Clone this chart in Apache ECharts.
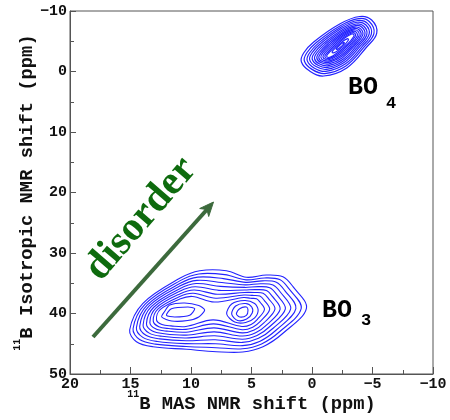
<!DOCTYPE html>
<html><head><meta charset="utf-8">
<script src="https://cdn.jsdelivr.net/npm/echarts@6/dist/echarts.min.js"></script>
<style>html,body{margin:0;padding:0;background:#fff}#c{width:450px;height:420px}</style>
</head><body><div id="c"></div>
<script>
// Axis ranges (ppm)
const xRange = [-10, 20];   // 11B MAS NMR shift, reversed
const yRange = [-10, 50];   // 11B isotropic NMR shift, reversed

// BO3 contours enclosing both sites, outer to inner, [MAS ppm, iso ppm]
const bo3Merged = [
 [[15.07,42.73],[14.51,44.66],[13.14,45.49],[10.38,45.92],[7.90,46.31],[5.73,46.36],[4.05,45.49],[2.40,43.27],[0.46,39.14],[1.57,35.57],[2.40,33.92],[3.77,33.64],[5.42,34.02],[7.07,32.93],[9.28,32.93],[10.93,34.18],[13.97,38.31]],
 [[14.79,42.52],[14.25,44.31],[12.95,45.06],[10.39,45.45],[7.93,45.65],[5.74,45.83],[4.17,45.03],[2.66,42.98],[0.89,39.17],[1.91,35.89],[2.67,34.38],[3.93,34.12],[5.45,34.44],[7.20,33.58],[9.36,33.46],[10.93,34.61],[13.79,38.44]],
 [[14.51,42.31],[13.98,43.95],[12.77,44.63],[10.39,44.98],[7.97,45.00],[5.74,45.31],[4.29,44.57],[2.93,42.69],[1.33,39.19],[2.25,36.21],[2.95,34.83],[4.10,34.60],[5.48,34.85],[7.32,34.23],[9.43,33.99],[10.93,35.04],[13.61,38.57]],
 [[14.24,42.10],[13.72,43.60],[12.58,44.20],[10.40,44.51],[8.00,44.34],[5.75,44.78],[4.42,44.11],[3.19,42.40],[1.76,39.22],[2.59,36.53],[3.22,35.29],[4.26,35.08],[5.50,35.27],[7.45,34.87],[9.51,34.52],[10.93,35.47],[13.44,38.70]],
 [[13.96,41.89],[13.45,43.24],[12.40,43.77],[10.40,44.04],[8.04,43.69],[5.76,44.26],[4.54,43.65],[3.46,42.11],[2.20,39.24],[2.93,36.85],[3.49,35.74],[4.42,35.56],[5.53,35.69],[7.57,35.52],[9.58,35.05],[10.93,35.90],[13.26,38.83]],
 [[13.68,41.68],[13.19,42.89],[12.21,43.34],[10.41,43.57],[8.07,43.03],[5.77,43.73],[4.66,43.19],[3.72,41.83],[2.63,39.27],[3.27,37.18],[3.77,36.20],[4.59,36.05],[5.56,36.11],[7.70,36.17],[9.66,35.59],[10.93,36.33],[13.08,38.97]],
 [[13.40,41.47],[12.93,42.53],[12.02,42.91],[10.41,43.09],[8.10,42.37],[5.77,43.20],[4.78,42.72],[3.98,41.54],[3.06,39.29],[3.61,37.50],[4.04,36.65],[4.75,36.53],[5.59,36.52],[7.83,36.82],[9.73,36.12],[10.93,36.76],[12.90,39.10]],
 [[13.12,41.26],[12.66,42.18],[11.84,42.48],[10.42,42.62],[8.14,41.72],[5.78,42.68],[4.90,42.26],[4.25,41.25],[3.50,39.32],[3.95,37.82],[4.31,37.11],[4.91,37.01],[5.62,36.94],[7.95,37.47],[9.81,36.65],[10.93,37.19],[12.72,39.23]],
 [[12.85,41.05],[12.40,41.82],[11.65,42.05],[10.42,42.15],[8.17,41.06],[5.79,42.15],[5.03,41.80],[4.51,40.96],[3.93,39.34],[4.29,38.14],[4.58,37.56],[5.07,37.49],[5.65,37.36],[8.08,38.11],[9.88,37.18],[10.93,37.62],[12.55,39.36]]
];
// BO3 inner loops around the left site
const bo3Left = [
 [[12.42,40.58],[12.21,39.75],[11.76,38.60],[10.52,38.26],[9.36,38.68],[8.87,39.42],[9.36,40.58],[10.27,41.16],[11.60,41.24]],
 [[12.03,40.30],[11.62,39.21],[10.25,38.93],[9.69,39.21],[10.11,40.30],[11.35,40.58]]
];
// BO3 inner loops around the right site
const bo3Right = [
 [[7.05,40.08],[6.64,38.43],[5.56,37.85],[4.74,38.35],[4.45,39.42],[4.74,40.74],[5.48,41.49],[6.39,41.40]],
 [[6.64,40.08],[6.31,38.76],[5.48,38.35],[4.98,38.93],[4.94,39.92],[5.40,40.91],[6.14,41.16]],
 [[6.25,40.03],[5.98,39.21],[5.42,38.93],[5.29,39.47],[5.42,40.30],[5.98,40.58]]
];
// BO4 contours, outer to inner
const bo4Loops = [
 [[0.88,-1.62],[0.19,-0.08],[-0.97,0.74],[-2.87,-0.58],[-4.52,-4.05],[-5.35,-6.36],[-4.93,-8.51],[-3.94,-9.09],[-2.29,-7.85],[-0.14,-4.88],[0.69,-3.06]],
 [[0.63,-1.73],[0.00,-0.35],[-1.06,0.34],[-2.80,-0.92],[-4.33,-4.11],[-5.12,-6.29],[-4.75,-8.22],[-3.86,-8.74],[-2.34,-7.57],[-0.36,-4.80],[0.44,-3.06]],
 [[0.40,-1.84],[-0.17,-0.59],[-1.14,-0.02],[-2.74,-1.23],[-4.16,-4.17],[-4.91,-6.23],[-4.59,-7.96],[-3.79,-8.43],[-2.38,-7.32],[-0.56,-4.73],[0.21,-3.06]],
 [[0.19,-1.93],[-0.33,-0.82],[-1.21,-0.35],[-2.68,-1.51],[-4.00,-4.22],[-4.72,-6.17],[-4.44,-7.72],[-3.72,-8.14],[-2.43,-7.09],[-0.74,-4.66],[0.01,-3.06]],
 [[-0.02,-2.02],[-0.49,-1.04],[-1.29,-0.68],[-2.62,-1.79],[-3.85,-4.27],[-4.53,-6.12],[-4.29,-7.48],[-3.66,-7.85],[-2.47,-6.86],[-0.92,-4.59],[-0.20,-3.06]],
 [[-0.21,-2.11],[-0.63,-1.24],[-1.36,-0.98],[-2.57,-2.04],[-3.70,-4.31],[-4.36,-6.06],[-4.16,-7.27],[-3.60,-7.59],[-2.50,-6.65],[-1.09,-4.53],[-0.39,-3.06]],
 [[-0.40,-2.19],[-0.77,-1.44],[-1.42,-1.27],[-2.52,-2.29],[-3.56,-4.36],[-4.19,-6.01],[-4.03,-7.05],[-3.54,-7.33],[-2.54,-6.44],[-1.25,-4.47],[-0.57,-3.06]],
 [[-0.56,-2.27],[-0.89,-1.62],[-1.48,-1.54],[-2.47,-2.52],[-3.44,-4.40],[-4.04,-5.97],[-3.91,-6.86],[-3.48,-7.10],[-2.57,-6.26],[-1.40,-4.42],[-0.74,-3.06]],
 [[-0.73,-2.34],[-1.02,-1.80],[-1.54,-1.80],[-2.42,-2.74],[-3.31,-4.44],[-3.89,-5.92],[-3.79,-6.67],[-3.43,-6.87],[-2.61,-6.07],[-1.54,-4.36],[-0.90,-3.06]],
 [[-0.90,-2.42],[-1.15,-1.98],[-1.60,-2.07],[-2.38,-2.97],[-3.19,-4.48],[-3.74,-5.88],[-3.67,-6.48],[-3.38,-6.63],[-2.64,-5.89],[-1.69,-4.31],[-1.07,-3.06]],
 [[-1.06,-2.49],[-1.27,-2.15],[-1.66,-2.33],[-2.33,-3.19],[-3.06,-4.52],[-3.58,-5.83],[-3.55,-6.29],[-3.33,-6.40],[-2.67,-5.70],[-1.83,-4.26],[-1.24,-3.06]],
 [[-1.21,-2.56],[-1.38,-2.31],[-1.71,-2.56],[-2.29,-3.39],[-2.95,-4.55],[-3.45,-5.79],[-3.45,-6.12],[-3.28,-6.20],[-2.70,-5.54],[-1.96,-4.21],[-1.38,-3.06]],
 [[-1.66,-3.22],[-1.76,-3.07],[-1.96,-3.22],[-2.31,-3.72],[-2.70,-4.41],[-3.00,-5.16],[-3.00,-5.36],[-2.90,-5.40],[-2.55,-5.01],[-2.11,-4.21],[-1.76,-3.52]],
 [[-2.00,-3.72],[-2.05,-3.64],[-2.15,-3.72],[-2.32,-3.97],[-2.52,-4.31],[-2.67,-4.68],[-2.67,-4.78],[-2.62,-4.81],[-2.45,-4.61],[-2.22,-4.21],[-2.05,-3.87]]
];

const BLUE = '#2323ff';
const MONO = '"Liberation Mono", "DejaVu Sans Mono", monospace';
const AXC = '#555';

function contourSeries(name, loops, smooth, width) {
  return {
    type: 'custom', name: name, silent: true, z: 3,
    data: loops.map(function (l) { return l[0]; }),
    renderItem: function (params, api) {
      const pts = loops[params.dataIndex].map(function (p) { return api.coord(p); });
      return { type: 'polygon', shape: { points: pts, smooth: smooth },
               style: { fill: 'none', stroke: BLUE, lineWidth: width } };
    }
  };
}
const minus = function (v) { return String(v).replace('-', '\u2212'); };
const richName = {
  s: { fontFamily: MONO, fontWeight: 'bold', fontSize: 10, color: '#111', verticalAlign: 'top', lineHeight: 22 },
  m: { fontFamily: MONO, fontWeight: 'bold', fontSize: 18.8, color: '#111', lineHeight: 22, padding: [8, 0, 0, 0] }
};

const chart = echarts.init(document.getElementById('c'), null, { renderer: 'canvas' });
chart.setOption({
  backgroundColor: '#fff',
  animation: false,
  grid: { left: 70, right: 17, top: 11, bottom: 46, containLabel: false, outerBoundsMode: 'none',
          show: true, borderColor: AXC, borderWidth: 1, backgroundColor: 'transparent' },
  xAxis: {
    type: 'value', min: xRange[0], max: xRange[1], interval: 5, inverse: true,
    splitLine: { show: false },
    axisLine: { show: true, onZero: false, lineStyle: { color: AXC, width: 1 } },
    axisTick: { show: true, inside: true, length: 7, lineStyle: { color: AXC } },
    minorTick: { show: true, splitNumber: 2, length: 4, lineStyle: { color: AXC } },
    axisLabel: { formatter: minus, color: '#111', fontFamily: MONO, fontWeight: 'bold', fontSize: 15, margin: 3 },
    name: '{s|11}{m|B MAS NMR shift (ppm)}', nameLocation: 'middle', nameGap: 15, nameMoveOverlap: false,
    nameTextStyle: { rich: richName }
  },
  yAxis: {
    type: 'value', min: yRange[0], max: yRange[1], interval: 10, inverse: true,
    splitLine: { show: false },
    axisLine: { show: true, onZero: false, lineStyle: { color: AXC, width: 1 } },
    axisTick: { show: true, inside: true, length: 6, lineStyle: { color: AXC } },
    minorTick: { show: true, splitNumber: 2, length: 4, lineStyle: { color: AXC } },
    axisLabel: { formatter: minus, color: '#111', fontFamily: MONO, fontWeight: 'bold', fontSize: 15, margin: 3 },
    name: '{s|11}{m|B Isotropic NMR shift (ppm)}', nameLocation: 'middle', nameGap: 36, nameMoveOverlap: false,
    nameTextStyle: { rich: richName }
  },
  series: [
    contourSeries('BO3', bo3Merged, 0.35, 1.1),
    contourSeries('BO3 left', bo3Left, 0.25, 1.1),
    contourSeries('BO3 right', bo3Right, 0.3, 1.1),
    contourSeries('BO4', bo4Loops, 0.4, 1.2)
  ],
  graphic: [
    { type: 'text', x: 348, y: 88, silent: true,
      style: { text: 'BO', fill: '#000', font: 'bold 25px ' + MONO, verticalAlign: 'middle', align: 'left' } },
    { type: 'text', x: 386, y: 104, silent: true,
      style: { text: '4', fill: '#000', font: 'bold 17px ' + MONO, verticalAlign: 'middle', align: 'left' } },
    { type: 'text', x: 322, y: 311, silent: true,
      style: { text: 'BO', fill: '#000', font: 'bold 25px ' + MONO, verticalAlign: 'middle', align: 'left' } },
    { type: 'text', x: 361, y: 321, silent: true,
      style: { text: '3', fill: '#000', font: 'bold 17px ' + MONO, verticalAlign: 'middle', align: 'left' } },
    { type: 'line', silent: true,
      shape: { x1: 93, y1: 337, x2: 207, y2: 209.5 },
      style: { stroke: '#3c6a3c', lineWidth: 4 } },
    { type: 'polygon', silent: true,
      shape: { points: [[213.5, 202], [208.7, 216.5], [206.9, 209.5], [199.7, 208.5]] },
      style: { fill: '#3c6a3c', stroke: '#3c6a3c', lineWidth: 1 } },
    { type: 'text', x: 141, y: 219, rotation: 0.86, silent: true,
      style: { text: 'disorder', fill: '#0e6b0e', font: 'bold 41px "Liberation Serif", serif', align: 'center', verticalAlign: 'middle' } }
  ]
});
</script>
</body></html>
